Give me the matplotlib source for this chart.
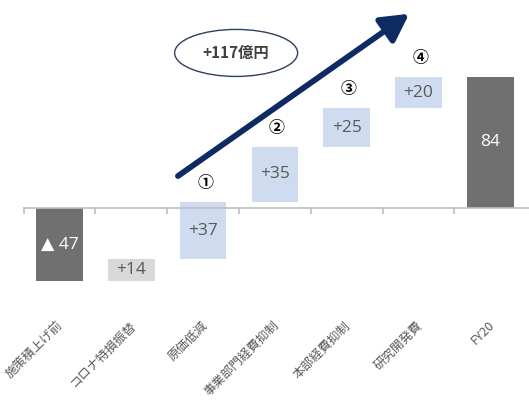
import matplotlib
matplotlib.use("Agg")
import matplotlib.pyplot as plt
from matplotlib.patches import Ellipse

plt.rcParams['font.family'] = ['Noto Sans CJK JP', 'DejaVu Sans']

categories = ["施策積上げ前", "コロナ特損振替", "原価低減", "事業部門経費抑制", "本部経費抑制", "研究開発費", "FY20"]
changes = [-47, 14, 37, 35, 25, 20, 84]
value_labels = ["▲ 47", "+14", "+37", "+35", "+25", "+20", "84"]
kinds = ["total", "grey", "blue", "blue", "blue", "blue", "total"]
markers = ["", "", "①", "②", "③", "④", ""]
total_label = "+117億円"

face = {"total": "#707070", "grey": "#d9d9d9", "blue": "#cfdcef"}
txtc = {"total": "white", "grey": "#595959", "blue": "#595959"}

W, H = 529, 400
fig = plt.figure(figsize=(W / 100, H / 100), dpi=100)
ax = fig.add_axes([0, 0, 1, 1])
px_x = 71.8
x0 = 59.5
px_y = 1.56
y0 = 208
ax.set_xlim(-x0 / px_x, (W - x0) / px_x)
ax.set_ylim(-(H - y0) / px_y, y0 / px_y)
ax.axis("off")

# waterfall
running = 0
bottoms, heights = [], []
for i, (c, k) in enumerate(zip(changes, kinds)):
    if k == "total":
        b, h = 0, c
        running = c
    else:
        b, h = running, c
        running += c
    bottoms.append(b)
    heights.append(h)

xs = list(range(len(categories)))
for i in xs:
    ax.bar(i, heights[i], bottom=bottoms[i], width=0.65, color=face[kinds[i]], zorder=2)
    mid = bottoms[i] + heights[i] / 2
    ax.text(i, mid, value_labels[i], ha="center", va="center", fontsize=12.5,
            color=txtc[kinds[i]], family=["Open Sans", "DejaVu Sans"], zorder=4)
    if markers[i]:
        top = bottoms[i] + heights[i]
        ax.text(i + 0.03, top + 12, markers[i], ha="center", va="center", fontsize=11.5,
                color="black", fontweight="bold", zorder=4)

# baseline and ticks
ax.plot([-0.5, len(categories) - 0.5 + 0.1], [0, 0], color="#bfbfbf", lw=1.2, zorder=3)
for b in range(len(categories)):
    ax.plot([b - 0.5, b - 0.5], [0, -3.5], color="#bfbfbf", lw=1.2, zorder=3)

# category labels
for i, c in enumerate(categories):
    ax.text(i + 0.03, -74, c, rotation=45, rotation_mode="anchor", ha="right", va="center",
            fontsize=9, color="#595959")

# arrow
ax.annotate("", xy=(4.87, 124.5), xytext=(1.65, 20.5),
            arrowprops=dict(arrowstyle="-|>,head_length=1.1,head_width=0.6", lw=4.2,
                            color="#0d2a63", mutation_scale=15, shrinkA=0, shrinkB=0),
            zorder=5)

# ellipse with total
ell = Ellipse((2.46, 99.4), 123 / px_x, 47 / px_y, facecolor="none", edgecolor="#2f3f5f", lw=1.0)
ax.add_patch(ell)
ax.text(2.46, 99.4, total_label, ha="center", va="center", fontsize=11, fontweight="bold", color="#404040")

fig.savefig("out.png", dpi=100)
